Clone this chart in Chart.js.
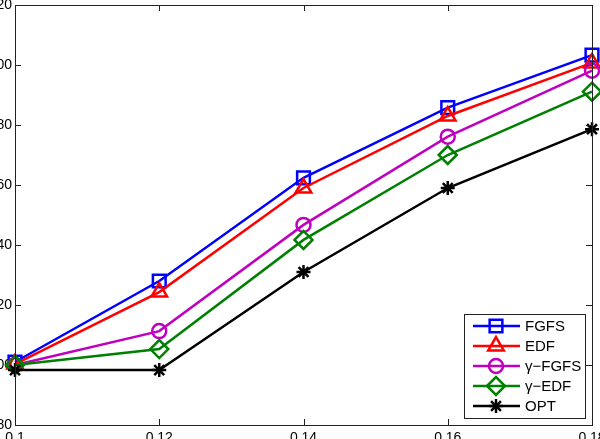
<!DOCTYPE html>
<html>
<head>
<meta charset="utf-8">
<script src="https://cdn.jsdelivr.net/npm/chart.js@4/dist/chart.umd.min.js"></script>
<style>
  html, body { margin: 0; padding: 0; width: 600px; height: 439px; overflow: hidden; background: #fff; }
  #wrap { position: absolute; left: -60px; top: -20px; width: 700px; height: 520px; }
</style>
</head>
<body>
<div id="wrap"><canvas id="c" width="700" height="520"></canvas></div>
<script>
// ---- data ----
const xValues = [0.1, 0.12, 0.14, 0.16, 0.18];
const xTicks = [0.1, 0.12, 0.14, 0.16, 0.18];
const yTicks = [80, 100, 120, 140, 160, 180, 200, 220];
const seriesNames = ['FGFS', 'EDF', 'γ\u2212FGFS', 'γ\u2212EDF', 'OPT'];
const fgfs  = [101.0, 128.0, 162.4, 185.8, 203.3];
const edf   = [100.3, 124.3, 159.0, 183.0, 200.7];
const gFgfs = [100.0, 111.3, 146.7, 176.1, 198.1];
const gEdf  = [100.0, 105.3, 141.7, 170.0, 191.1];
const opt   = [98.3, 98.3, 131.0, 159.0, 178.6];

const styles = [
  { color: '#0000ff', pointStyle: 'rect', radius: 9 },
  { color: '#ff0000', pointStyle: 'triangle', radius: 9 },
  { color: '#bf00bf', pointStyle: 'circle', radius: 7 },
  { color: '#008000', pointStyle: 'rectRot', radius: 9 },
  { color: '#000000', pointStyle: 'star', radius: 7 }
];
const values = [fgfs, edf, gFgfs, gEdf, opt];

const datasets = values.map((vals, i) => ({
  label: seriesNames[i],
  data: vals.map((v, j) => ({ x: xValues[j], y: v })),
  borderColor: styles[i].color,
  backgroundColor: 'rgba(0,0,0,0)',
  pointBorderColor: styles[i].color,
  pointBackgroundColor: 'rgba(0,0,0,0)',
  pointStyle: styles[i].pointStyle,
  pointRadius: styles[i].radius,
  pointBorderWidth: 2.5,
  borderWidth: 2.5,
  tension: 0,
  clip: false,
  order: 5 - i
}));

const FAMILY = "'Liberation Sans', Arial, sans-serif";
const TICK_FONT = { family: FAMILY, size: 14 };
const LEGEND_SIZE = 15;

const frameAndTicks = {
  id: 'frameAndTicks',
  afterDraw(chart) {
    const { ctx, chartArea: a, scales } = chart;
    const L = 6;
    ctx.save();
    ctx.strokeStyle = '#222';
    ctx.lineWidth = 1;
    ctx.beginPath();
    scales.x.ticks.forEach(t => {
      const px = Math.round(scales.x.getPixelForValue(t.value)) + 0.5;
      ctx.moveTo(px, a.bottom); ctx.lineTo(px, a.bottom - L);
      ctx.moveTo(px, a.top); ctx.lineTo(px, a.top + L);
    });
    scales.y.ticks.forEach(t => {
      const py = Math.round(scales.y.getPixelForValue(t.value)) + 0.5;
      ctx.moveTo(a.left, py); ctx.lineTo(a.left + L, py);
      ctx.moveTo(a.right, py); ctx.lineTo(a.right - L, py);
    });
    ctx.stroke();
    ctx.strokeRect(Math.round(a.left) + 0.5, Math.round(a.top) + 0.5,
                   Math.round(a.right - a.left), Math.round(a.bottom - a.top));
    ctx.restore();
  }
};

const boxLegend = {
  id: 'boxLegend',
  afterDraw(chart) {
    const { ctx, chartArea: a } = chart;
    const w = 121, h = 104;
    const x0 = a.right - 7 - w, y0 = a.bottom - 7 - h;
    ctx.save();
    ctx.fillStyle = '#fff';
    ctx.fillRect(x0, y0, w, h);
    ctx.strokeStyle = '#222';
    ctx.lineWidth = 1;
    ctx.strokeRect(Math.round(x0) + 0.5, Math.round(y0) + 0.5, w, h);
    chart.data.datasets.forEach((ds, i) => {
      const yy = y0 + 12 + i * 20;
      ctx.strokeStyle = ds.borderColor;
      ctx.lineWidth = 2.5;
      ctx.beginPath();
      ctx.moveTo(x0 + 9, yy); ctx.lineTo(x0 + 56, yy);
      ctx.stroke();
      ctx.fillStyle = 'rgba(0,0,0,0)';
      Chart.helpers.drawPoint(ctx, {
        pointStyle: ds.pointStyle, radius: ds.pointRadius, rotation: 0,
        borderWidth: 2.5
      }, x0 + 32, yy);
      ctx.fillStyle = '#000';
      ctx.font = `${LEGEND_SIZE}px ${FAMILY}`;
      ctx.textAlign = 'left';
      ctx.textBaseline = 'middle';
      ctx.fillText(ds.label, x0 + 61, yy + 1);
    });
    ctx.restore();
  }
};

new Chart(document.getElementById('c'), {
  type: 'line',
  data: { datasets },
  options: {
    responsive: false,
    animation: false,
    devicePixelRatio: 1,
    layout: { autoPadding: false, padding: { left: 0, top: 25, right: 48, bottom: 0 } },
    plugins: { legend: { display: false }, tooltip: { enabled: false } },
    scales: {
      x: {
        type: 'linear', min: 0.1, max: 0.18,
        afterBuildTicks: s => { s.ticks = xTicks.map(v => ({ value: v })); },
        afterFit: s => { s.height = 75; },
        grid: { display: false, drawTicks: false },
        border: { display: false },
        ticks: { color: '#000', font: TICK_FONT, padding: 5, maxRotation: 0,
                 callback: v => String(+Number(v).toFixed(2)) }
      },
      y: {
        type: 'linear', min: 80, max: 220,
        afterBuildTicks: s => { s.ticks = yTicks.map(v => ({ value: v })); },
        afterFit: s => { s.width = 75; },
        grid: { display: false, drawTicks: false },
        border: { display: false },
        ticks: { color: '#000', font: TICK_FONT, padding: 3,
                 callback: v => String(Math.round(v)) }
      }
    }
  },
  plugins: [frameAndTicks, boxLegend]
});
</script>
</body>
</html>
